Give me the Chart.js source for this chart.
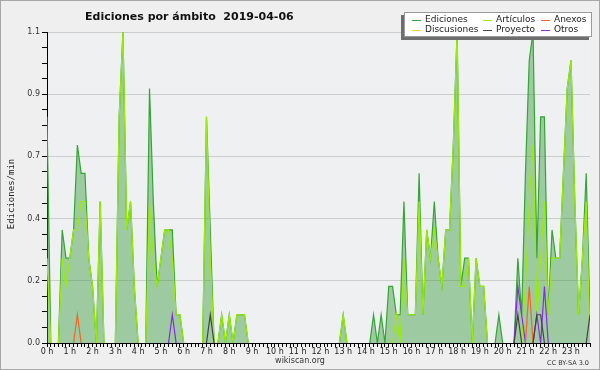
<!DOCTYPE html>
<html>
<head>
<meta charset="utf-8">
<script src="https://cdn.jsdelivr.net/npm/chart.js@4.4.1/dist/chart.umd.min.js"></script>
<style>
  html, body { margin: 0; padding: 0; background: #efefef; }
  #wrap { width: 600px; height: 370px; }
</style>
</head>
<body>
<div id="wrap"><canvas id="c" width="600" height="370"></canvas></div>
<script>
// ── Textos ───────────────────────────────────────────────────────────────
const TITLE = 'Ediciones por ámbito  2019-04-06';
const Y_TITLE = 'Ediciones/min';
const SITE = 'wikiscan.org';
const LICENSE = 'CC BY-SA 3.0';

// ── Ejes ─────────────────────────────────────────────────────────────────
const hourLabels = ['0 h', '1 h', '2 h', '3 h', '4 h', '5 h', '6 h', '7 h', '8 h', '9 h', '10 h', '11 h',
    '12 h', '13 h', '14 h', '15 h', '16 h', '17 h', '18 h', '19 h', '20 h', '21 h', '22 h', '23 h'];
const yTickValues = [0, 0.22, 0.44, 0.66, 0.88, 1.1];
const yTickLabels = ['0.0', '0.2', '0.4', '0.7', '0.9', '1.1'];

// ── Datos: ediciones/min por tramo de 10 minutos (00:00 → 23:50) ─────────
const ediciones = [
    0.8, 0, 0, 0, 0.4, 0.3, 0.3, 0.4, 0.7, 0.6, 0.6, 0.3,
    0.2, 0, 0.5, 0, 0, 0, 0, 0.8, 1.1, 0.4, 0.5, 0.2,
    0, 0, 0, 0.9, 0.5, 0.2, 0.3, 0.4, 0.4, 0.4, 0.1, 0.1,
    0, 0, 0, 0, 0, 0, 0.8, 0.4, 0, 0, 0.1, 0,
    0.1, 0, 0.1, 0.1, 0.1, 0, 0, 0, 0, 0, 0, 0,
    0, 0, 0, 0, 0, 0, 0, 0, 0, 0, 0, 0,
    0, 0, 0, 0, 0, 0, 0.1, 0, 0, 0, 0, 0,
    0, 0, 0.1, 0, 0.1, 0, 0.2, 0.2, 0.1, 0.1, 0.5, 0.1,
    0.1, 0.1, 0.6, 0.1, 0.4, 0.3, 0.5, 0.3, 0.2, 0.4, 0.4, 0.7,
    1.1, 0.2, 0.3, 0.3, 0, 0.3, 0.2, 0.2, 0, 0, 0, 0.1,
    0, 0, 0, 0, 0.3, 0.1, 0.6, 1.0, 1.1, 0.3, 0.8, 0.8,
    0.1, 0.4, 0.3, 0.3, 0.6, 0.9, 1.0, 0.5, 0.1, 0.3, 0.6, 0.1,
];
const articulos = [
    0.3, 0, 0, 0, 0.3, 0.2, 0.3, 0.4, 0.4, 0.5, 0.5, 0.3,
    0.2, 0, 0.5, 0, 0, 0, 0, 0.8, 1.1, 0.4, 0.5, 0.2,
    0, 0, 0, 0.5, 0.3, 0.2, 0.3, 0.4, 0.4, 0.3, 0.1, 0.1,
    0, 0, 0, 0, 0, 0, 0.8, 0.3, 0, 0, 0.1, 0,
    0.1, 0, 0.1, 0.1, 0.1, 0, 0, 0, 0, 0, 0, 0,
    0, 0, 0, 0, 0, 0, 0, 0, 0, 0, 0, 0,
    0, 0, 0, 0, 0, 0, 0.1, 0, 0, 0, 0, 0,
    0, 0, 0, 0, 0, 0, 0, 0, 0.1, 0, 0.3, 0.1,
    0.1, 0.1, 0.5, 0.1, 0.4, 0.3, 0.4, 0.3, 0.2, 0.4, 0.4, 0.7,
    1.1, 0.2, 0.2, 0.3, 0, 0.3, 0.2, 0.2, 0, 0, 0, 0,
    0, 0, 0, 0, 0, 0, 0.2, 0.5, 0.7, 0.1, 0.3, 0.5,
    0.1, 0.3, 0.3, 0.3, 0.6, 0.9, 1.0, 0.5, 0.1, 0.3, 0.5, 0,
];
const anexos = [
    0, 0, 0, 0, 0, 0, 0, 0, 0.1, 0, 0, 0,
    0, 0, 0, 0, 0, 0, 0, 0, 0, 0, 0, 0,
    0, 0, 0, 0, 0, 0, 0, 0, 0, 0, 0, 0,
    0, 0, 0, 0, 0, 0, 0, 0, 0, 0, 0, 0,
    0, 0, 0, 0, 0, 0, 0, 0, 0, 0, 0, 0,
    0, 0, 0, 0, 0, 0, 0, 0, 0, 0, 0, 0,
    0, 0, 0, 0, 0, 0, 0, 0, 0, 0, 0, 0,
    0, 0, 0, 0, 0, 0, 0, 0, 0, 0, 0, 0,
    0, 0, 0, 0, 0, 0, 0, 0, 0, 0, 0, 0,
    0, 0, 0, 0, 0, 0, 0, 0, 0, 0, 0, 0,
    0, 0, 0, 0, 0, 0, 0, 0.2, 0, 0, 0, 0,
    0, 0, 0, 0, 0, 0, 0, 0, 0, 0, 0, 0,
];
const discusiones = [
    0, 0, 0, 0, 0, 0, 0, 0, 0, 0, 0, 0,
    0, 0, 0, 0, 0, 0, 0, 0, 0, 0, 0, 0,
    0, 0, 0, 0, 0, 0, 0, 0, 0, 0, 0, 0,
    0, 0, 0, 0, 0, 0, 0, 0, 0, 0, 0, 0,
    0, 0, 0, 0, 0, 0, 0, 0, 0, 0, 0, 0,
    0, 0, 0, 0, 0, 0, 0, 0, 0, 0, 0, 0,
    0, 0, 0, 0, 0, 0, 0, 0, 0, 0, 0, 0,
    0, 0, 0, 0, 0, 0, 0, 0, 0, 0, 0, 0,
    0, 0, 0, 0, 0, 0, 0, 0, 0, 0, 0, 0,
    0, 0, 0, 0, 0, 0, 0, 0, 0, 0, 0, 0,
    0, 0, 0, 0, 0, 0, 0, 0, 0, 0, 0, 0,
    0, 0, 0, 0, 0, 0, 0, 0, 0, 0, 0, 0,
];
const proyecto = [
    0, 0, 0, 0, 0, 0, 0, 0, 0, 0, 0, 0,
    0, 0, 0, 0, 0, 0, 0, 0, 0, 0, 0, 0,
    0, 0, 0, 0, 0, 0, 0, 0, 0, 0, 0, 0,
    0, 0, 0, 0, 0, 0, 0, 0.1, 0, 0, 0, 0,
    0, 0, 0, 0, 0, 0, 0, 0, 0, 0, 0, 0,
    0, 0, 0, 0, 0, 0, 0, 0, 0, 0, 0, 0,
    0, 0, 0, 0, 0, 0, 0, 0, 0, 0, 0, 0,
    0, 0, 0, 0, 0, 0, 0, 0, 0, 0, 0, 0,
    0, 0, 0, 0, 0, 0, 0, 0, 0, 0, 0, 0,
    0, 0, 0, 0, 0, 0, 0, 0, 0, 0, 0, 0,
    0, 0, 0, 0, 0.1, 0, 0, 0, 0, 0.1, 0.1, 0,
    0, 0, 0, 0, 0, 0, 0, 0, 0, 0, 0, 0.1,
];
const otros = [
    0, 0, 0, 0, 0, 0, 0, 0, 0, 0, 0, 0,
    0, 0, 0, 0, 0, 0, 0, 0, 0, 0, 0, 0,
    0, 0, 0, 0, 0, 0, 0, 0, 0, 0.1, 0, 0,
    0, 0, 0, 0, 0, 0, 0, 0, 0, 0, 0, 0,
    0, 0, 0, 0, 0, 0, 0, 0, 0, 0, 0, 0,
    0, 0, 0, 0, 0, 0, 0, 0, 0, 0, 0, 0,
    0, 0, 0, 0, 0, 0, 0, 0, 0, 0, 0, 0,
    0, 0, 0, 0, 0, 0, 0, 0, 0, 0, 0, 0,
    0, 0, 0, 0, 0, 0, 0, 0, 0, 0, 0, 0,
    0, 0, 0, 0, 0, 0, 0, 0, 0, 0, 0, 0,
    0, 0, 0, 0, 0.2, 0.1, 0, 0, 0, 0.1, 0, 0.2,
    0, 0, 0, 0, 0, 0, 0, 0, 0, 0, 0, 0,
];

const FONT = "'DejaVu Sans', sans-serif";
const slots = ediciones.map((_, i) => i);
const pts = arr => arr.map((v, i) => ({ x: i, y: v }));
// oculta los tramos planos en cero (en el original quedan bajo el eje)
const hideZero = { borderColor: c => (c.p0.parsed.y === 0 && c.p1.parsed.y === 0) ? 'rgba(0,0,0,0)' : undefined };

const line = (label, data, color, order, extra = {}) => ({
    label, data: pts(data), borderColor: color, borderWidth: 1.2,
    pointRadius: 0, tension: 0, fill: false, order, segment: hideZero, ...extra,
});

const datasets = [
    line('Ediciones', ediciones, '#35a535', 3, { fill: 'origin', backgroundColor: 'rgba(51,153,51,0.43)' }),
    line('Discusiones', discusiones, '#ffcc33', 1),
    line('Artículos', articulos, '#99ee00', 2),
    line('Proyecto', proyecto, '#444444', 1),
    line('Anexos', anexos, '#f26522', 1),
    line('Otros', otros, '#8a2be2', 1),
];

// orden de la leyenda (3 columnas × 2 filas)
const legendGrid = [
    ['Ediciones', 'Artículos', 'Anexos'],
    ['Discusiones', 'Proyecto', 'Otros'],
];

// ── Decoración: fondo, título, leyenda, pies ─────────────────────────────
const deco = {
    id: 'deco',
    beforeDraw(chart) {
        const { ctx, chartArea: a } = chart;
        ctx.save();
        ctx.fillStyle = '#efefef';
        ctx.fillRect(0, 0, 600, 370);
        ctx.fillStyle = '#eef0f2';
        ctx.fillRect(a.left, a.top, a.right - a.left, a.bottom - a.top);
        ctx.restore();
    },
    afterDraw(chart) {
        const { ctx } = chart;
        ctx.save();
        // marco exterior
        ctx.strokeStyle = '#a8a8a8';
        ctx.lineWidth = 1;
        ctx.strokeRect(0.5, 0.5, 599, 369);

        // título
        ctx.fillStyle = '#111';
        ctx.font = 'bold 11px ' + FONT;
        ctx.textBaseline = 'middle';
        ctx.textAlign = 'left';
        ctx.fillText(TITLE, 85, 17);

        // título eje Y
        ctx.save();
        ctx.translate(12, 194);
        ctx.rotate(-Math.PI / 2);
        ctx.font = "9px 'DejaVu Sans Mono', monospace";
        ctx.textAlign = 'center';
        ctx.fillStyle = '#222';
        ctx.fillText(Y_TITLE, 0, 0);
        ctx.restore();

        // pies
        ctx.font = '8px ' + FONT;
        ctx.fillStyle = '#333';
        ctx.textAlign = 'center';
        ctx.fillText(SITE, 300, 361);
        ctx.font = '6.5px ' + FONT;
        ctx.textAlign = 'right';
        ctx.fillText(LICENSE, 589, 363);

        // leyenda
        const bx = 404, by = 12, bw = 188, bh = 25;
        ctx.fillStyle = '#6e6e6e';
        ctx.fillRect(bx - 3, by + 3, bw, bh);
        ctx.fillStyle = '#fff';
        ctx.fillRect(bx, by, bw, bh);
        ctx.strokeStyle = '#9a9a9a';
        ctx.strokeRect(bx + 0.5, by + 0.5, bw - 1, bh - 1);
        const colX = [412, 483, 541];
        const rowY = [19.5, 29.5];
        ctx.font = '9px ' + FONT;
        ctx.textAlign = 'left';
        legendGrid.forEach((row, r) => row.forEach((name, c) => {
            const ds = chart.data.datasets.find(d => d.label === name);
            ctx.strokeStyle = ds.borderColor;
            ctx.lineWidth = 1;
            ctx.beginPath();
            ctx.moveTo(colX[c], Math.round(rowY[r]) + 0.5);
            ctx.lineTo(colX[c] + 9, Math.round(rowY[r]) + 0.5);
            ctx.stroke();
            ctx.fillStyle = '#222';
            ctx.fillText(name, colX[c] + 13, rowY[r]);
        }));
        ctx.restore();
    },
};

new Chart(document.getElementById('c'), {
    type: 'line',
    data: { datasets },
    options: {
        responsive: false,
        animation: false,
        devicePixelRatio: 1,
        layout: { padding: { top: 32, right: 10, left: 0, bottom: 0 } },
        plugins: { legend: { display: false }, title: { display: false }, tooltip: { enabled: false } },
        scales: {
            x: {
                type: 'linear', min: 0, max: 143,
                afterBuildTicks: s => { s.ticks = slots.map(v => ({ value: v })); },
                afterFit: s => { s.height = 27; },
                ticks: {
                    autoSkip: false, maxRotation: 0, minRotation: 0, padding: 0,
                    color: '#222', font: { family: FONT, size: 8 },
                    callback: v => v % 6 === 0 ? hourLabels[v / 6] : '',
                },
                grid: { drawOnChartArea: false, tickLength: 4, tickColor: '#000' },
                border: { color: '#000', width: 1 },
            },
            y: {
                min: 0, max: 1.1,
                afterBuildTicks: s => {
                    const t = [];
                    yTickValues.forEach((v, i) => {
                        if (i === 0) { t.push(v); return; }
                        const p = yTickValues[i - 1];
                        for (let k = 1; k <= 4; k++) t.push(p + (v - p) * k / 4);
                    });
                    s.ticks = t.map(v => ({ value: v }));
                },
                afterFit: s => { s.width = 47; },
                ticks: {
                    autoSkip: false, padding: 2,
                    color: '#333', font: { family: FONT, size: 8 },
                    callback: (v, i) => i % 4 === 0 ? yTickLabels[i / 4] : '',
                },
                grid: {
                    color: c => c.index % 4 === 0 ? '#cdcdcd' : 'rgba(0,0,0,0)',
                    tickColor: '#000', tickLength: 5,
                },
                border: { color: '#000', width: 1 },
            },
        },
    },
    plugins: [deco],
});
</script>
</body>
</html>
